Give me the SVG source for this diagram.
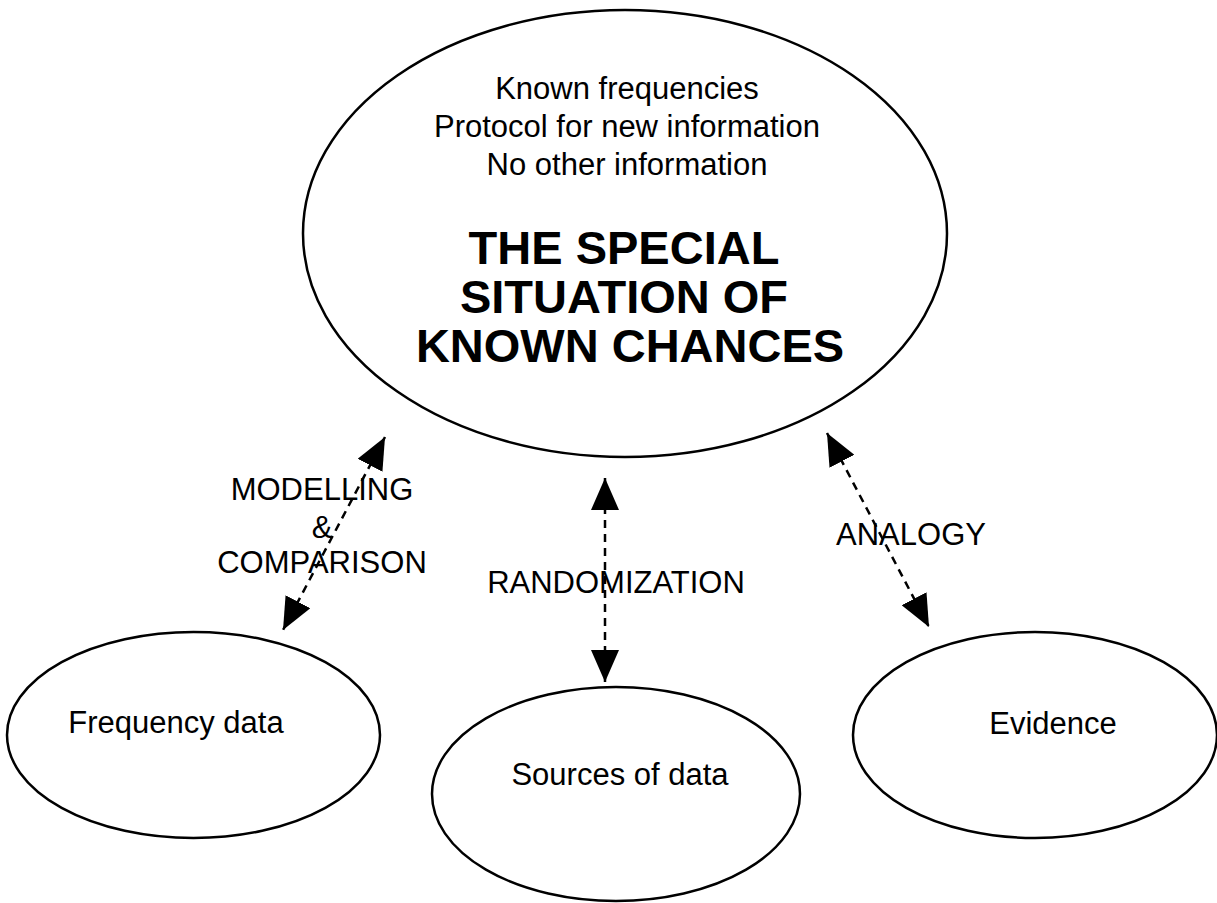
<svg xmlns="http://www.w3.org/2000/svg" width="1217" height="903" viewBox="0 0 1217 903">
<style>
.node{fill:#fff;stroke:#000;stroke-width:2.5}
.t{font-family:"Liberation Sans",Arial,sans-serif;font-size:31px;fill:#000;text-anchor:middle}
.b{font-family:"Liberation Sans",Arial,sans-serif;font-size:47px;font-weight:bold;fill:#000;text-anchor:middle}
.c{stroke:#000;stroke-width:2.5;stroke-dasharray:8 6;fill:none;marker-start:url(#ah);marker-end:url(#ah)}
</style>
<defs>
<marker id="ah" viewBox="0 0 32 28" refX="32" refY="14" markerWidth="32" markerHeight="28" markerUnits="userSpaceOnUse" orient="auto-start-reverse">
<path d="M0,0 L32,14 L0,28 z" fill="#000"/>
</marker>
</defs>
<rect width="1217" height="903" fill="#fff"/>
<g id="main">
<ellipse class="node" cx="625" cy="233.5" rx="322" ry="223.5"/>
<text class="t" x="627" y="99">Known frequencies</text>
<text class="t" x="627" y="137">Protocol for new information</text>
<text class="t" x="627" y="175">No other information</text>
<text class="b" x="624" y="264">THE SPECIAL</text>
<text class="b" x="624" y="313">SITUATION OF</text>
<text class="b" x="630" y="362">KNOWN CHANCES</text>
</g>
<g id="frequency">
<ellipse class="node" cx="193.5" cy="735" rx="186.5" ry="103"/>
<text class="t" x="176" y="733">Frequency data</text>
</g>
<g id="sources">
<ellipse class="node" cx="616" cy="794" rx="184" ry="107"/>
<text class="t" x="620" y="785">Sources of data</text>
</g>
<g id="evidence">
<ellipse class="node" cx="1035" cy="735" rx="182" ry="103"/>
<text class="t" x="1053" y="734">Evidence</text>
</g>
<g id="connectors">
<line class="c" x1="385" y1="437" x2="283" y2="630"/>
<line class="c" x1="605" y1="478" x2="605" y2="682"/>
<line class="c" x1="827" y1="433" x2="929" y2="627"/>
<text class="t" x="322" y="500">MODELLING</text>
<text class="t" x="322" y="538">&amp;</text>
<text class="t" x="322" y="573">COMPARISON</text>
<text class="t" x="616" y="593">RANDOMIZATION</text>
<text class="t" x="911" y="545">ANALOGY</text>
</g>
</svg>
